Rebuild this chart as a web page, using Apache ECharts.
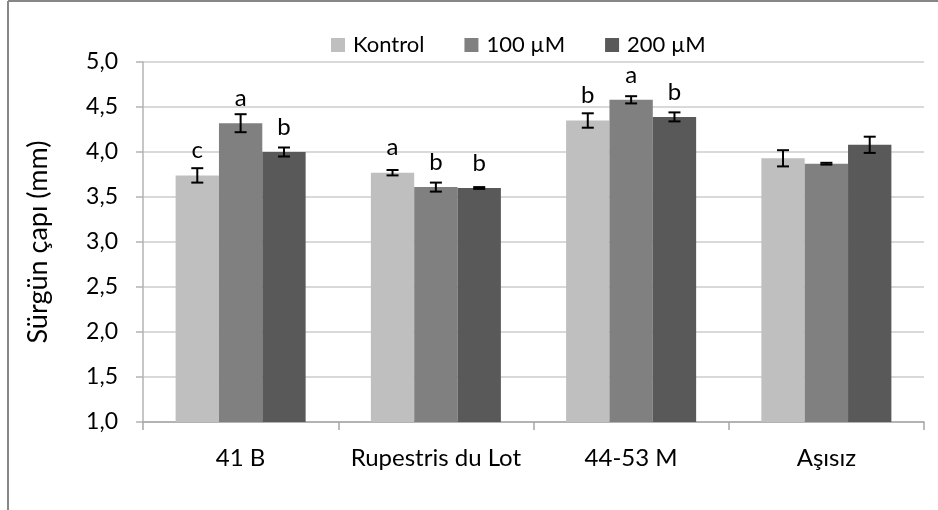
<!DOCTYPE html>
<html>
<head>
<meta charset="utf-8">
<script src="https://cdn.jsdelivr.net/npm/echarts@6/dist/echarts.min.js"></script>
<style>
  html, body { margin: 0; padding: 0; background: #ffffff; }
  #chart { width: 938px; height: 510px; }
</style>
</head>
<body>
<div id="chart"></div>
<script>
// Rootstocks on the x axis
const categories = ['41 B', 'Rupestris du Lot', '44-53 M', 'Aşısız'];
const seriesNames = ['Kontrol', '100 µM', '200 µM'];

// Mean shoot diameter (mm) per treatment
const kontrol = [3.74, 3.77, 4.35, 3.93];
const um100   = [4.32, 3.61, 4.58, 3.87];
const um200   = [4.00, 3.60, 4.39, 4.08];

// Standard errors
const errKontrol = [0.08, 0.03, 0.08, 0.09];
const errUm100   = [0.10, 0.05, 0.04, 0.01];
const errUm200   = [0.05, 0.01, 0.05, 0.09];

// Significance letters (none for Aşısız)
const letKontrol = ['c', 'a', 'b', ''];
const letUm100   = ['a', 'b', 'a', ''];
const letUm200   = ['b', 'b', 'b', ''];

// Y axis ticks
const yMin = 1.0, yMax = 5.0, yStep = 0.5;

const values  = [kontrol, um100, um200];
const errors  = [errKontrol, errUm100, errUm200];
const letters = [letKontrol, letUm100, letUm200];
const colors  = ['#bfbfbf', '#808080', '#595959'];

const FONT = 'Lato, "Noto Sans", sans-serif';
const CATEGORY_GAP = 0.334;   // share of each band left empty
const N = 3;

const chart = echarts.init(document.getElementById('chart'), null, { renderer: 'canvas' });

const barSeries = values.map((vals, s) => ({
  name: seriesNames[s],
  type: 'bar',
  data: vals,
  barGap: '0%',
  barCategoryGap: (CATEGORY_GAP * 100) + '%',
  itemStyle: { color: colors[s] },
  label: {
    show: true,
    position: 'top',
    distance: 13,
    formatter: p => letters[s][p.dataIndex],
    fontFamily: FONT,
    fontSize: 24,
    color: '#000000'
  },
  emphasis: { disabled: true },
  z: 2
}));

const errorSeries = values.map((vals, s) => ({
  name: seriesNames[s] + ' hata',
  type: 'custom',
  data: vals.map((v, i) => [i, v - errors[s][i], v + errors[s][i]]),
  renderItem: (params, api) => {
    const idx = api.value(0);
    const band = api.size([1, 0])[0];
    const barW = band * (1 - CATEGORY_GAP) / N;
    const offset = (s - (N - 1) / 2) * barW;
    const lo = api.coord([idx, api.value(1)]);
    const hi = api.coord([idx, api.value(2)]);
    const x = lo[0] + offset;
    const cap = 6;
    const style = { stroke: '#000000', lineWidth: 2 };
    return {
      type: 'group',
      children: [
        { type: 'line', shape: { x1: x, y1: hi[1], x2: x, y2: lo[1] }, style },
        { type: 'line', shape: { x1: x - cap, y1: hi[1], x2: x + cap, y2: hi[1] }, style },
        { type: 'line', shape: { x1: x - cap, y1: lo[1], x2: x + cap, y2: lo[1] }, style }
      ]
    };
  },
  encode: { x: 0, y: [1, 2] },
  silent: true,
  z: 5
}));

chart.setOption({
  animation: false,
  backgroundColor: '#ffffff',
  textStyle: { fontFamily: FONT },
  graphic: [
    { type: 'line', shape: { x1: 8, y1: 1, x2: 938, y2: 1 }, style: { stroke: '#878787', lineWidth: 2 } },
    { type: 'line', shape: { x1: 8, y1: 1, x2: 8, y2: 510 }, style: { stroke: '#878787', lineWidth: 2 } }
  ],
  legend: {
    data: seriesNames,
    left: 326,
    top: 29,
    itemWidth: 14,
    itemHeight: 14,
    itemGap: 40,
    icon: 'rect',
    textStyle: { fontFamily: FONT, fontSize: 22, color: '#000000', padding: [0, 0, 0, 3] }
  },
  grid: { left: 143, right: 14, top: 62, bottom: 88, containLabel: false },
  xAxis: {
    type: 'category',
    data: categories,
    axisLine: { lineStyle: { color: '#a6a6a6', width: 1.5 } },
    axisTick: { show: true, length: 8, lineStyle: { color: '#a6a6a6', width: 1.5 } },
    axisLabel: { interval: 0, fontFamily: FONT, fontSize: 24, color: '#000000', margin: 24 },
    splitLine: { show: false }
  },
  yAxis: {
    type: 'value',
    min: yMin,
    max: yMax,
    interval: yStep,
    name: 'Sürgün çapı (mm)',
    nameLocation: 'middle',
    nameRotate: 90,
    nameGap: 91,
    nameTextStyle: { fontFamily: FONT, fontSize: 27, color: '#000000' },
    axisLine: { show: true, lineStyle: { color: '#b3b3b3', width: 1.5 } },
    axisTick: { show: true, length: 7, lineStyle: { color: '#b3b3b3', width: 1.5 } },
    axisLabel: {
      fontFamily: FONT, fontSize: 23, color: '#000000', margin: 25,
      formatter: v => v.toFixed(1).replace('.', ',')
    },
    splitLine: { show: true, lineStyle: { color: '#d9d9d9', width: 2 } }
  },
  series: [...barSeries, ...errorSeries]
});
</script>
</body>
</html>
